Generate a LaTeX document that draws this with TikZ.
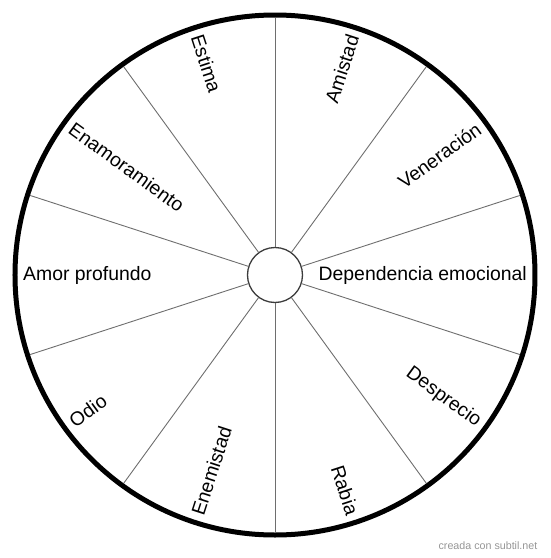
\documentclass[tikz,border=0pt]{standalone}
\usepackage{fontspec}
\setmainfont{Liberation Sans}
\usetikzlibrary{positioning}
\definecolor{spokegray}{RGB}{110,110,110}
\definecolor{hubgray}{RGB}{60,60,60}
\definecolor{markgray}{RGB}{150,150,150}

\begin{document}
\begin{tikzpicture}[
  x=1pt, y=1pt,
  rimcircle/.style={circle, draw=black, line width=5pt, minimum size=520pt,
    inner sep=0pt, outer sep=0pt},
  hubcircle/.style={circle, draw=hubgray, fill=white, line width=1.3pt,
    minimum size=55pt, inner sep=0pt, outer sep=0pt},
  spoke/.style={draw=spokegray, line width=0.9pt, shorten <=0.6pt, shorten >=2.5pt},
  lbl/.style={font=\fontsize{19.4}{23}\selectfont, inner sep=0pt, text=black},
  watermark/.style={font=\fontsize{10.7}{13}\selectfont, text=markgray, inner sep=0pt}
]
\useasboundingbox (-275,-283) rectangle (275,275);

\node[rimcircle] (rim) at (0,0) {};
\node[hubcircle] (hub) at (0,0) {};

% spokes between the hub and the rim
\foreach \a in {90,126,...,414}
  \draw[spoke] (hub.\a) -- (rim.\a);

% labels, right half
\foreach \ang/\txt [count=\i] in {72/Amistad, 36/Veneración, 0/Dependencia emocional, -36/Desprecio, -72/Rabia}
  \node[lbl, anchor=east, rotate=\ang] (r\i) at (\ang:252) {\txt};

% labels, left half
\foreach \ang/\txt [count=\i] in {108/Estima, 144/Enamoramiento, 180/Amor profundo, 216/Odio, 252/Enemistad}
  \node[lbl, anchor=west, rotate=\ang-180] (l\i) at (\ang:252) {\txt};

\node[watermark] (credit) at (213,-271) {creada con subtil.net};

\end{tikzpicture}
\end{document}
